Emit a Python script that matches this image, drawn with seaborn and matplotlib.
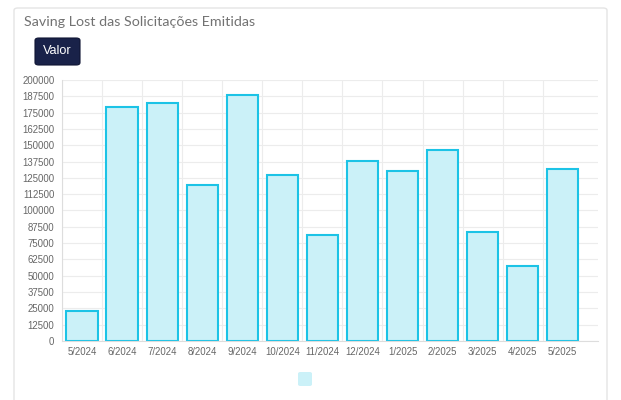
import numpy as np
import pandas as pd
import seaborn as sns
import matplotlib.pyplot as plt
from matplotlib.patches import FancyBboxPatch

# --- DATA ---
months = ["5/2024", "6/2024", "7/2024", "8/2024", "9/2024", "10/2024", "11/2024",
          "12/2024", "1/2025", "2/2025", "3/2025", "4/2025", "5/2025"]
valor = [23200, 179000, 182600, 119800, 188800, 127400, 81000,
         138200, 130500, 146600, 83800, 57500, 132000]
y_ticks = list(range(0, 200001, 12500))

TITLE = "Saving Lost das Solicitações Emitidas"
BUTTON = "Valor"

FILL = "#cbf1f8"
EDGE = "#1cc3e6"
GRID = "#ececec"
TICK_COLOR = "#666666"

sns.set_style("white")
plt.rcParams['font.family'] = ['Liberation Sans', 'DejaVu Sans']

df = pd.DataFrame({"mes": months, "valor": valor})

fig = plt.figure(figsize=(6.21, 4.0), dpi=100)
fig.patch.set_facecolor("white")

# card (behind everything)
card = FancyBboxPatch((14 / 621, -0.05), 593 / 621, (400 - 8) / 400 + 0.05,
                      boxstyle="round,pad=0,rounding_size=0.006",
                      transform=fig.transFigure, facecolor="white",
                      edgecolor="#e4e4e4", linewidth=1.0, zorder=-10)
fig.patches.append(card)

fig.text(24 / 621, 1 - 22 / 400, TITLE, fontsize=10.3, color="#727272",
         family=['Lato', 'DejaVu Sans'], va="center", ha="left")

# "Valor" button
btn = FancyBboxPatch((35 / 621, 1 - 65 / 400), 45 / 621, 27 / 400,
                     boxstyle="round,pad=0,rounding_size=0.006",
                     transform=fig.transFigure, facecolor="#192249",
                     edgecolor="#0f1533", linewidth=0.8, zorder=1)
fig.patches.append(btn)
fig.text(57.5 / 621, 1 - 51.5 / 400, BUTTON, fontsize=9.2, color="white",
         va="center", ha="center", zorder=2)

ax = fig.add_axes([62 / 621, 1 - 341 / 400, (598 - 62) / 621, (341 - 80) / 400])
ax.set_zorder(5)
sns.barplot(data=df, x="mes", y="valor", ax=ax, color=FILL, width=0.78,
            edgecolor=EDGE, linewidth=1.5, saturation=1)
for p in ax.patches:
    p.set_facecolor(FILL)

ax.set_ylim(0, 200000)
# chart area runs a bit past the last category slot
ax.set_xlim(-0.5, len(months) - 0.5 + 0.38)
ax.set_yticks(y_ticks)
ax.set_yticklabels([str(v) for v in y_ticks])
ax.set_xlabel("")
ax.set_ylabel("")

# grid: horizontal at ticks, vertical at category boundaries
ax.set_xticks(np.arange(-0.5, len(months) - 1, 1), minor=True)
ax.grid(axis="y", color=GRID, linewidth=0.8)
ax.grid(axis="x", which="minor", color=GRID, linewidth=0.8)
ax.set_axisbelow(True)

ax.tick_params(axis="both", which="major", labelsize=6.9, labelcolor=TICK_COLOR)
ax.tick_params(axis="y", length=4, color="#dddddd", pad=1.5)
ax.tick_params(axis="x", which="major", length=0, pad=4)
ax.tick_params(axis="x", which="minor", length=4, color="#dddddd")

for side in ["top", "right"]:
    ax.spines[side].set_visible(False)
for side in ["left", "bottom"]:
    ax.spines[side].set_color("#dddddd")
    ax.spines[side].set_linewidth(0.8)

# legend swatch
sw = FancyBboxPatch((298 / 621, 1 - 386 / 400), 14 / 621, 14 / 400,
                    boxstyle="round,pad=0,rounding_size=0.004",
                    transform=fig.transFigure, facecolor=FILL,
                    edgecolor="none", zorder=1)
fig.patches.append(sw)

fig.savefig("out.png", dpi=100)
